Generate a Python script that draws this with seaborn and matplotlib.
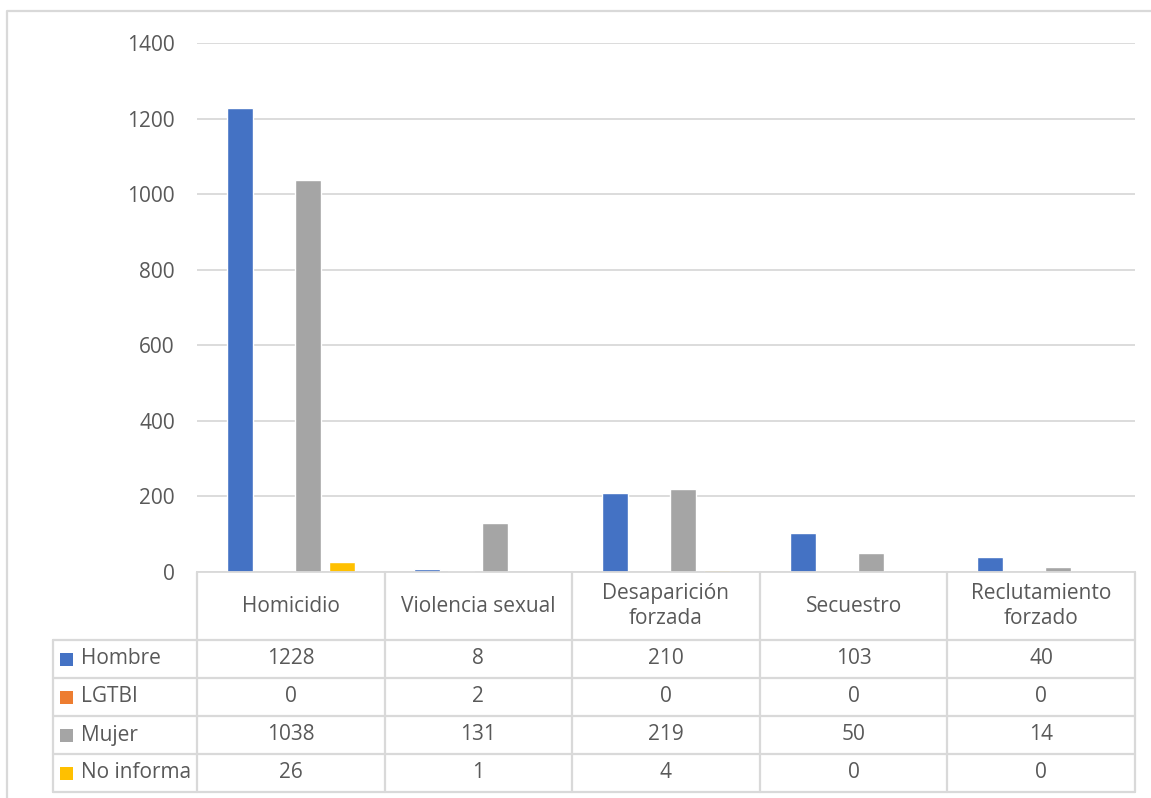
import pandas as pd
import seaborn as sns
import matplotlib.pyplot as plt
from matplotlib.patches import Rectangle
from matplotlib.lines import Line2D

# data
categories = ["Homicidio", "Violencia sexual", "Desaparición forzada", "Secuestro", "Reclutamiento forzado"]
cat_labels = ["Homicidio", "Violencia sexual", "Desaparición\nforzada", "Secuestro", "Reclutamiento\nforzado"]
series = ["Hombre", "LGTBI", "Mujer", "No informa"]
hombre = [1228, 8, 210, 103, 40]
lgtbi = [0, 2, 0, 0, 0]
mujer = [1038, 131, 219, 50, 14]
no_informa = [26, 1, 4, 0, 0]
yticks = [0, 200, 400, 600, 800, 1000, 1200, 1400]

colors = {"Hombre": "#4472C4", "LGTBI": "#ED7D31", "Mujer": "#A5A5A5", "No informa": "#FFC000"}
text_col = "#595959"
line_col = "#D9D9D9"
fs = 15

values = {"Hombre": hombre, "LGTBI": lgtbi, "Mujer": mujer, "No informa": no_informa}
df = pd.DataFrame([
    {"categoria": c, "grupo": s, "valor": values[s][i]}
    for s in series for i, c in enumerate(categories)
])

sns.set_style("white")
plt.rcParams["font.family"] = ["Open Sans", "DejaVu Sans"]

W, H = 1151, 798
fig = plt.figure(figsize=(W / 100, H / 100), dpi=100)

def fx(px):
    return px / W

def fy(py):
    return 1 - py / H

ax_l, ax_r, ax_b, ax_t = 197, 1135, 572, 43
ax = fig.add_axes([fx(ax_l), fy(ax_b), fx(ax_r - ax_l), fy(ax_t) - fy(ax_b)])

sns.barplot(
    data=df,
    x="categoria",
    y="valor",
    hue="grupo",
    order=categories,
    hue_order=series,
    palette=colors,
    saturation=1,
    width=0.725,
    gap=0.235,
    legend=False,
    ax=ax,
)

ax.set_xlim(-0.5, len(categories) - 0.5)
ax.set_ylim(0, 1400)
ax.set_yticks(yticks)
ax.set_yticklabels([str(t) for t in yticks], color=text_col, fontsize=fs)
ax.tick_params(axis="y", length=0, pad=16)
ax.set_xticks([])
ax.set_xlabel("")
ax.set_ylabel("")
ax.yaxis.grid(True, color=line_col, linewidth=1.3)
ax.set_axisbelow(True)
for side in ["top", "right", "left"]:
    ax.spines[side].set_visible(False)
ax.spines["bottom"].set_color(line_col)
ax.spines["bottom"].set_linewidth(1.3)

# data table under the chart
col_x = [197 + i * (1135 - 197) / 5 for i in range(6)]
row_y = [572, 640, 678, 716, 754, 792]
left_x = 53

def hline(y, x0, x1):
    fig.add_artist(Line2D([fx(x0), fx(x1)], [fy(y), fy(y)], color=line_col, lw=1.6))

def vline(x, y0, y1):
    fig.add_artist(Line2D([fx(x), fx(x)], [fy(y0), fy(y1)], color=line_col, lw=1.6))

for y in row_y[1:]:
    hline(y, left_x, col_x[-1])
for x in col_x:
    vline(x, row_y[0], row_y[-1])
vline(left_x, row_y[1], row_y[-1])

for i, lab in enumerate(cat_labels):
    cx = (col_x[i] + col_x[i + 1]) / 2
    fig.text(fx(cx), fy((row_y[0] + row_y[1]) / 2), lab, ha="center", va="center",
             color=text_col, fontsize=fs, linespacing=1.2)

for r, s in enumerate(series):
    cy = (row_y[r + 1] + row_y[r + 2]) / 2
    fig.add_artist(Rectangle((fx(60), fy(cy + 6.5)), fx(13), fy(cy - 6.5) - fy(cy + 6.5),
                             facecolor=colors[s], edgecolor="none"))
    fig.text(fx(81), fy(cy), s, ha="left", va="center", color=text_col, fontsize=fs)
    for i in range(len(categories)):
        cx = (col_x[i] + col_x[i + 1]) / 2
        fig.text(fx(cx), fy(cy), str(values[s][i]), ha="center", va="center",
                 color=text_col, fontsize=fs)

# outer chart frame
fig.add_artist(Line2D([fx(7), fx(7), fx(1151)], [fy(798), fy(11), fy(11)], color=line_col, lw=1.6))

fig.savefig("out.png", dpi=100)
